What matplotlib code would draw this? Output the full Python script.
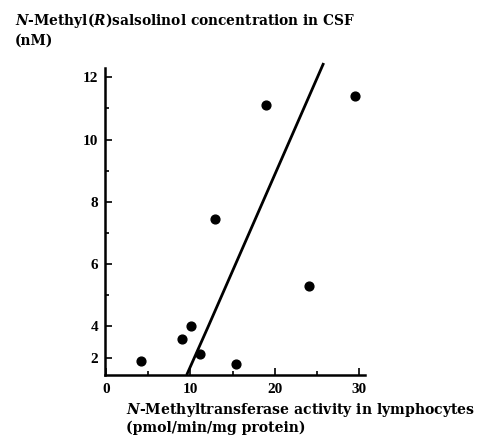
import numpy as np
import matplotlib
matplotlib.use("Agg")
import matplotlib.pyplot as plt

# Data
enzyme_activity = [4.2, 9.0, 10.1, 11.1, 15.4, 12.9, 19.0, 29.5, 24.1]
salsolinol_conc = [1.8, 3.2, 4.0, 2.2, 1.6, 7.45, 11.1, 11.4, 5.3]

# Regression line
line_x = [9.56, 12.12, 25.8]
line_y = [0.88, 4.0, 12.46]

x_ticks = [0, 10, 20, 30]
x_tick_labels = ["0", "10", "20", "30"]
x_minor = [5, 15, 25]
y_ticks = [2, 4, 6, 8, 10, 12]
y_tick_labels = ["2", "4", "6", "8", "10", "12"]
y_minor = [5, 7, 9, 11]

plt.rcParams["font.family"] = ["Liberation Serif", "DejaVu Serif"]
plt.rcParams["mathtext.fontset"] = "dejavuserif"


def fwd(y):
    y = np.asarray(y, dtype=float)
    return np.where(y >= 4, y, 4 - (4 - y) * 0.5)


def inv(v):
    v = np.asarray(v, dtype=float)
    return np.where(v >= 4, v, 4 - (4 - v) * 2.0)


fig = plt.figure(figsize=(4.79, 4.43), dpi=100)
ax = fig.add_axes([105 / 479, 1 - 375 / 443, 260 / 479, 307 / 443])
ax.set_yscale("function", functions=(fwd, inv))

ax.scatter(enzyme_activity, salsolinol_conc, s=40, color="black", zorder=3,
           clip_on=False)
ax.plot(line_x, line_y, color="black", lw=2.0, clip_on=False,
        solid_capstyle="butt")

ax.set_xlim(-0.12, 30.7)
ax.set_ylim(0.88, 12.3)

ax.set_xticks(x_ticks)
ax.set_xticklabels(x_tick_labels, fontweight="bold", fontsize=11)
ax.set_xticks(x_minor, minor=True)
ax.set_yticks(y_ticks)
ax.set_yticklabels(y_tick_labels, fontweight="bold", fontsize=11)
ax.set_yticks(y_minor, minor=True)

ax.tick_params(axis="both", which="both", direction="in", width=1.2,
               color="black")
ax.tick_params(axis="both", which="major", length=5)
ax.tick_params(axis="x", which="major", pad=6)
ax.tick_params(axis="y", which="major", pad=5)
ax.tick_params(axis="both", which="minor", length=3)

for s in ["top", "right"]:
    ax.spines[s].set_visible(False)
for s in ["left", "bottom"]:
    ax.spines[s].set_linewidth(1.8)

fig.text(15 / 479, 1 - 11 / 443,
         r"$\mathbfit{N}$-Methyl($\mathbfit{R}$)salsolinol concentration in CSF" + "\n(nM)",
         ha="left", va="top", fontsize=9.9, fontweight="bold",
         family="DejaVu Serif", linespacing=1.3)

fig.text(126 / 479, 1 - 401 / 443,
         r"$\mathbfit{N}$-Methyltransferase activity in lymphocytes" + "\n(pmol/min/mg protein)",
         ha="left", va="top", fontsize=10.1, fontweight="bold",
         family="DejaVu Serif", linespacing=1.15)

fig.savefig("out.png", dpi=100)
